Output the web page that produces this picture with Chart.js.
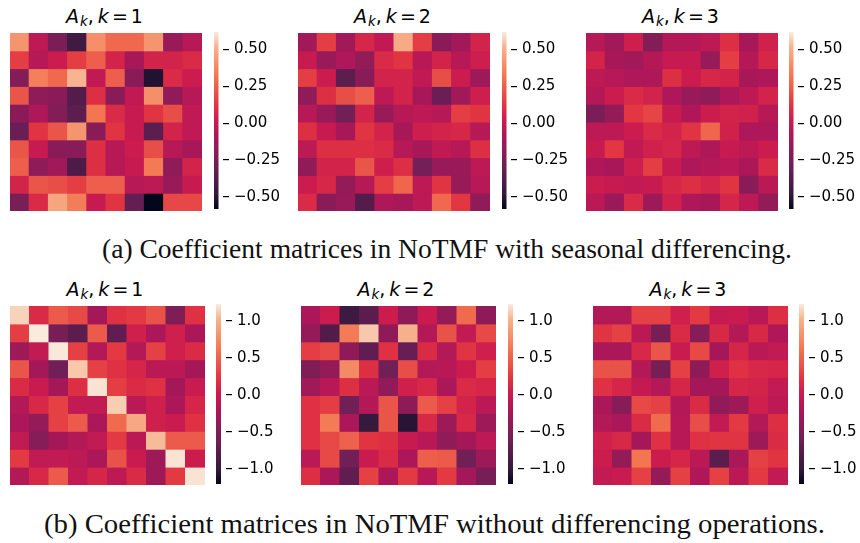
<!DOCTYPE html>
<html>
<head>
<meta charset="utf-8">
<script src="https://cdn.jsdelivr.net/npm/chart.js@4.4.1/dist/chart.umd.min.js"></script>
<style>
  html, body { margin: 0; padding: 0; background: #fff; }
  #root { position: relative; width: 860px; height: 543px; overflow: hidden; background: #fff; }
  canvas { position: absolute; }
  .ttl { position: absolute; text-align: center; font-family: 'DejaVu Sans'; font-size: 19px; line-height: 19px; white-space: nowrap; color: #000; }
  .cap { position: absolute; font-family: 'Liberation Serif'; font-size: 28px; line-height: 28px; white-space: nowrap; color: #111; transform-origin: 0 0; }
</style>
</head>
<body>
<div id="root"></div>
<script>
// ---------------- DATA ----------------
const colLabels = ['0','1','2','3','4','5','6','7','8','9'];

const titleKs = [1, 2, 3];

const captionA = '(a) Coefficient matrices in NoTMF with seasonal differencing.';
const captionB = '(b) Coefficient matrices in NoTMF without differencing operations.';

const topRange = [-0.583, 0.619];
const bottomRange = [-1.205, 1.228];

const topTickValues = [0.5, 0.25, 0, -0.25, -0.5];
const topTickLabels = ['0.50', '0.25', '0.00', '\u22120.25', '\u22120.50'];
const bottomTickValues = [1, 0.5, 0, -0.5, -1];
const bottomTickLabels = ['1.0', '0.5', '0.0', '\u22120.5', '\u22121.0'];

// (a) seasonal differencing, k = 1
const seasonalK1 = [
  [0.42, -0.03, -0.25, -0.45, 0.40, 0.28, 0.28, 0.42, -0.15, -0.05],
  [0.15, -0.05, 0.02, 0.15, 0.25, 0.05, -0.10, 0.05, 0.05, 0.08],
  [-0.22, 0.35, 0.28, 0.52, -0.02, 0.25, -0.20, -0.52, 0.08, 0.02],
  [0.22, -0.18, -0.20, -0.38, 0.10, -0.20, -0.02, 0.40, -0.18, -0.05],
  [-0.20, -0.08, -0.22, -0.35, 0.32, 0.08, 0.00, 0.12, 0.20, -0.02],
  [-0.30, 0.12, 0.22, 0.42, -0.20, 0.12, 0.00, -0.35, 0.05, -0.02],
  [0.22, 0.00, -0.20, -0.20, 0.10, -0.05, 0.02, 0.20, -0.05, -0.10],
  [0.25, -0.18, -0.12, -0.40, 0.10, -0.05, 0.00, 0.33, -0.18, 0.05],
  [0.05, 0.22, 0.20, 0.15, 0.25, 0.25, -0.05, -0.03, -0.15, 0.00],
  [-0.25, 0.08, 0.47, 0.34, 0.00, 0.12, -0.32, -0.58, 0.18, 0.18]
];
// (a) seasonal differencing, k = 2
const seasonalK2 = [
  [-0.12, 0.15, -0.12, 0.07, -0.02, 0.49, 0.15, -0.20, -0.12, 0.05],
  [0.00, -0.15, -0.08, -0.17, 0.08, 0.12, -0.05, 0.05, -0.05, 0.03],
  [0.15, 0.02, -0.35, -0.20, 0.05, 0.05, -0.02, 0.20, 0.02, -0.13],
  [-0.18, 0.10, 0.20, 0.25, -0.03, 0.05, -0.10, -0.30, -0.12, 0.03],
  [-0.05, -0.15, -0.28, 0.05, -0.15, -0.05, -0.03, -0.05, 0.15, 0.12],
  [0.10, 0.00, -0.10, 0.12, 0.05, -0.10, 0.03, 0.05, 0.07, -0.05],
  [-0.03, 0.10, 0.10, 0.10, 0.08, -0.05, -0.10, -0.02, -0.05, 0.10],
  [-0.18, 0.05, 0.05, 0.22, 0.03, 0.10, -0.27, -0.15, -0.15, -0.03],
  [0.02, 0.07, -0.17, -0.05, 0.15, 0.27, -0.03, 0.12, -0.15, -0.05],
  [0.08, -0.20, -0.15, -0.38, -0.08, -0.10, -0.03, 0.28, 0.13, -0.18]
];
// (a) seasonal differencing, k = 3
const seasonalK3 = [
  [-0.05, -0.12, 0.03, -0.22, -0.06, -0.06, -0.03, 0.10, -0.10, 0.04],
  [0.05, -0.10, -0.12, -0.06, 0.00, 0.00, -0.15, 0.15, -0.06, 0.07],
  [-0.03, -0.05, -0.08, -0.08, 0.10, 0.02, 0.07, 0.05, -0.10, -0.08],
  [-0.06, 0.02, 0.08, 0.05, -0.08, -0.15, -0.18, -0.08, -0.03, 0.05],
  [-0.25, -0.17, 0.13, 0.17, 0.00, -0.07, 0.02, 0.05, 0.04, -0.05],
  [-0.03, -0.03, 0.02, 0.08, 0.05, 0.12, 0.27, 0.04, -0.08, -0.08],
  [0.00, 0.13, -0.02, 0.04, 0.06, -0.03, -0.08, 0.00, -0.03, 0.02],
  [-0.07, -0.10, 0.03, 0.15, 0.00, -0.08, -0.06, -0.04, -0.09, 0.08],
  [0.02, 0.00, -0.02, 0.00, 0.07, 0.10, 0.06, 0.12, -0.20, -0.04],
  [-0.04, -0.14, 0.08, -0.13, 0.04, -0.08, -0.10, 0.06, -0.03, -0.17]
];
// (b) without differencing, k = 1
const plainK1 = [
  [1.14, 0.15, 0.45, 0.35, -0.25, 0.20, 0.25, 0.40, -0.50, 0.20],
  [0.28, 1.23, -0.55, -0.75, 0.45, -0.70, 0.05, -0.20, 0.05, -0.20],
  [-0.30, -0.05, 1.22, 0.30, -0.15, 0.25, -0.15, 0.30, 0.05, 0.15],
  [0.42, -0.25, -0.60, 1.10, 0.30, 0.20, 0.10, -0.10, -0.10, -0.25],
  [0.15, 0.00, -0.25, 0.18, 1.20, 0.28, 0.15, 0.20, -0.25, 0.00],
  [-0.15, 0.12, 0.30, -0.05, -0.05, 1.12, -0.10, 0.05, -0.20, 0.10],
  [-0.20, -0.35, 0.30, 0.45, -0.20, 0.55, 0.95, 0.05, 0.00, 0.20],
  [-0.05, -0.45, -0.25, -0.15, -0.05, 0.25, -0.10, 1.05, 0.45, 0.45],
  [0.25, -0.05, -0.05, -0.08, -0.20, 0.40, 0.00, -0.30, 1.20, 0.02],
  [-0.15, 0.12, 0.45, -0.05, 0.10, -0.08, 0.15, -0.30, 0.25, 1.20]
];
// (b) without differencing, k = 2
const plainK2 = [
  [-0.20, 0.02, -0.95, -0.75, 0.02, -0.40, 0.00, -0.35, 0.55, -0.40],
  [-0.35, -0.80, 0.65, 1.10, -0.40, 1.00, -0.15, 0.40, -0.05, 0.35],
  [0.28, 0.35, -0.40, -0.70, 0.20, -0.65, 0.15, -0.15, 0.22, 0.05],
  [-0.50, -0.35, 0.75, 0.18, -0.60, 0.38, -0.15, -0.12, 0.02, 0.28],
  [-0.28, -0.12, 0.18, -0.10, -0.38, 0.05, 0.12, -0.20, 0.15, 0.10],
  [0.20, 0.28, -0.60, -0.15, 0.42, -0.40, 0.45, 0.30, 0.08, -0.10],
  [0.20, 0.65, -0.20, -1.00, 0.42, -1.05, 0.12, -0.30, 0.12, -0.30],
  [0.20, 0.35, 0.50, 0.22, 0.18, -0.02, -0.12, -0.38, -0.25, -0.08],
  [-0.10, 0.35, -0.60, 0.00, 0.15, -0.20, 0.48, 0.45, -0.60, -0.30],
  [0.18, -0.20, -0.70, 0.30, -0.20, 0.25, -0.12, 0.25, -0.25, -0.55]
];
// (b) without differencing, k = 3
const plainK3 = [
  [-0.15, -0.15, 0.30, 0.30, 0.05, 0.25, -0.02, 0.00, -0.12, 0.18],
  [0.22, 0.30, -0.10, -0.55, 0.15, -0.45, 0.12, -0.15, 0.12, -0.18],
  [-0.20, -0.20, 0.12, 0.42, 0.00, 0.35, -0.25, 0.10, -0.10, -0.05],
  [0.40, 0.40, -0.15, -0.55, 0.30, -0.40, 0.05, 0.20, 0.12, 0.10],
  [0.20, 0.10, -0.03, -0.15, 0.10, -0.25, -0.25, 0.10, 0.08, -0.05],
  [-0.20, -0.45, 0.35, 0.30, -0.15, 0.15, -0.38, -0.30, 0.05, -0.08],
  [-0.15, -0.20, 0.15, 0.55, -0.12, 0.38, -0.05, 0.25, -0.15, 0.18],
  [0.05, 0.12, -0.25, 0.20, -0.12, 0.20, 0.22, 0.22, -0.30, 0.15],
  [0.02, -0.35, 0.62, 0.02, 0.10, -0.10, -0.75, -0.22, 0.30, 0.22],
  [-0.05, 0.00, 0.30, -0.35, 0.30, -0.18, 0.30, -0.10, 0.25, -0.05]
];

// ---------------- COLORMAP (seaborn "rocket") ----------------
const rocketStops = [
  [0.0, [3, 5, 26]],
  [0.0833, [53, 25, 62]],
  [0.25, [112, 31, 87]],
  [0.4167, [173, 23, 89]],
  [0.5, [203, 27, 79]],
  [0.5833, [225, 51, 66]],
  [0.75, [243, 118, 81]],
  [0.9167, [246, 180, 143]],
  [1.0, [250, 235, 221]]
];
function rocket(t) {
  t = Math.max(0, Math.min(1, t));
  for (let i = 1; i < rocketStops.length; i++) {
    const [t1, c1] = rocketStops[i];
    const [t0, c0] = rocketStops[i - 1];
    if (t <= t1) {
      const f = (t - t0) / (t1 - t0);
      const c = c0.map((v, j) => Math.round(v + (c1[j] - v) * f));
      return `rgb(${c[0]},${c[1]},${c[2]})`;
    }
  }
  return 'rgb(250,235,221)';
}

// ---------------- LAYOUT ----------------
const root = document.getElementById('root');
function addCanvas(left, top, w, h) {
  const c = document.createElement('canvas');
  c.width = w; c.height = h;
  c.style.left = left + 'px'; c.style.top = top + 'px';
  c.style.width = w + 'px'; c.style.height = h + 'px';
  root.appendChild(c);
  return c;
}

function heatmap(panel, matrix, range) {
  const [vmin, vmax] = range;
  const cv = addCanvas(panel.left, panel.top, panel.w, panel.h);
  const datasets = matrix.map((row, r) => {
    const colors = row.map(v => rocket((v - vmin) / (vmax - vmin)));
    return {
      data: row.map(() => [r, r + 1]),
      backgroundColor: colors,
      borderWidth: 0,
      barPercentage: 1,
      categoryPercentage: 1,
      grouped: false,
      inflateAmount: 0.5
    };
  });
  new Chart(cv, {
    type: 'bar',
    data: { labels: colLabels, datasets },
    options: {
      responsive: false, animation: false, events: [],
      devicePixelRatio: 1,
      layout: { padding: 0 },
      plugins: { legend: { display: false }, tooltip: { enabled: false }, title: { display: false } },
      scales: {
        x: { display: false, offset: true },
        y: { display: false, min: 0, max: matrix.length, reverse: true }
      }
    }
  });
}

function colorbar(panel, range, tickValues, tickLabels) {
  const [vmin, vmax] = range;
  const axisW = 60;
  const cv = addCanvas(panel.cbLeft, panel.cbTop, panel.cbW + axisW, panel.cbH);
  new Chart(cv, {
    type: 'bar',
    data: {
      labels: ['cb'],
      datasets: [{
        data: [[vmin, vmax]],
        barPercentage: 1,
        categoryPercentage: 1,
        borderWidth: 0,
        inflateAmount: 0,
        backgroundColor: (ctx) => {
          const a = ctx.chart.chartArea;
          if (!a) return '#c81a50';
          const g = ctx.chart.ctx.createLinearGradient(0, a.bottom, 0, a.top);
          rocketStops.forEach(([t, c]) => g.addColorStop(t, `rgb(${c[0]},${c[1]},${c[2]})`));
          return g;
        }
      }]
    },
    options: {
      responsive: false, animation: false, events: [],
      devicePixelRatio: 1,
      layout: { padding: 0 },
      plugins: { legend: { display: false }, tooltip: { enabled: false } },
      scales: {
        x: { display: false, offset: false },
        y: {
          position: 'right',
          min: vmin, max: vmax,
          afterBuildTicks: (s) => { s.ticks = tickValues.map(v => ({ value: v })); },
          afterFit: (s) => { s.width = axisW; s.paddingTop = 0; s.paddingBottom = 0; },
          border: { display: false },
          grid: { drawOnChartArea: false, drawTicks: true, tickLength: 6, color: '#000', lineWidth: 1.2 },
          ticks: {
            padding: 5,
            color: '#000',
            font: { family: 'DejaVu Sans', size: 15 },
            callback: (v) => tickLabels[tickValues.indexOf(v)]
          }
        }
      }
    }
  });
}

function title(k, cx, top) {
  const d = document.createElement('div');
  d.className = 'ttl';
  d.style.left = (cx - 100) + 'px';
  d.style.width = '200px';
  d.style.top = top + 'px';
  d.innerHTML = '<span style="font-style:italic">A</span>' +
    '<span style="font-style:italic;font-size:13.3px;position:relative;top:3px;margin-left:1px">k</span>' +
    '<span>,</span><span style="font-style:italic;margin-left:4px">k</span>' +
    '<span style="margin:0 3px 0 3px">=</span><span>' + k + '</span>';
  root.appendChild(d);
}

function caption(text, left, right, top) {
  const d = document.createElement('div');
  d.className = 'cap';
  d.textContent = text;
  d.style.left = left + 'px';
  d.style.top = top + 'px';
  root.appendChild(d);
  const w = d.getBoundingClientRect().width;
  d.style.transform = `scaleX(${(right - left) / w})`;
}

const topPanels = [
  { left: 10, top: 33, w: 192, h: 178, cbLeft: 214, cbTop: 32, cbW: 9, cbH: 177, titleTop: 7 },
  { left: 298, top: 33, w: 192, h: 178, cbLeft: 502, cbTop: 32, cbW: 9, cbH: 177, titleTop: 7 },
  { left: 586, top: 33, w: 192, h: 178, cbLeft: 789, cbTop: 32, cbW: 9, cbH: 177, titleTop: 7 }
];
const bottomPanels = [
  { left: 10, top: 306, w: 195, h: 179, cbLeft: 216, cbTop: 304, cbW: 10, cbH: 180, titleTop: 280 },
  { left: 301, top: 306, w: 195, h: 179, cbLeft: 508, cbTop: 304, cbW: 10, cbH: 180, titleTop: 280 },
  { left: 593, top: 306, w: 195, h: 179, cbLeft: 799, cbTop: 304, cbW: 10, cbH: 180, titleTop: 280 }
];

const topMatrices = [seasonalK1, seasonalK2, seasonalK3];
const bottomMatrices = [plainK1, plainK2, plainK3];

topPanels.forEach((p, i) => {
  heatmap(p, topMatrices[i], topRange);
  colorbar(p, topRange, topTickValues, topTickLabels);
  title(titleKs[i], p.left + p.w / 2 - 1.5, p.titleTop);
});
bottomPanels.forEach((p, i) => {
  heatmap(p, bottomMatrices[i], bottomRange);
  colorbar(p, bottomRange, bottomTickValues, bottomTickLabels);
  title(titleKs[i], p.left + p.w / 2 - 2.5, p.titleTop);
});

caption(captionA, 102, 792, 234.5);
caption(captionB, 44, 825, 509.5);
</script>
</body>
</html>
